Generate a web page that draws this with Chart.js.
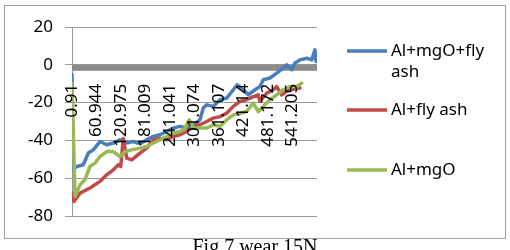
<!DOCTYPE html>
<html>
<head>
<meta charset="utf-8">
<script src="https://cdn.jsdelivr.net/npm/chart.js@4.4.1/dist/chart.umd.min.js"></script>
<style>
    html, body { margin: 0; padding: 0; background: #fff; overflow: hidden; }
    #wrap { position: relative; width: 510px; height: 250px; overflow: hidden; }
    #caption {
        position: absolute; left: 0; top: 236px; width: 510px;
        text-align: center; font: 20px/20px "Liberation Serif", serif; color: #000;
    }
</style>
</head>
<body>
<div id="wrap">
    <canvas id="wearChart" width="510" height="250"></canvas>
    <div id="caption">Fig 7 wear 15N</div>
</div>
<script>
// Tick labels on the x axis (sliding distance)
const xTickValues = [0.91, 60.944, 120.975, 181.009, 241.041, 301.074, 361.107, 421.14, 481.172, 541.205];
const xTickLabels = ['0.91', '60.944', '120.975', '181.009', '241.041', '301.074', '361.107', '421.14', '481.172', '541.205'];

const seriesNames = ['Al+mgO+fly ash', 'Al+fly ash', 'Al+mgO'];

// Al+mgO+fly ash
const blueX = [0.91, 3.4, 12.4, 28.6, 40.8, 53.1, 69.5, 85.9, 102, 118.5, 134.9, 151, 167.4, 183.8, 200, 216.4, 232.8, 249, 265.4, 281.8,
    298, 314.4, 322.5, 330.8, 347, 363.4, 379.8, 396, 405.7, 420.4, 432.7, 449.1, 461.3, 469.4, 485.8, 502.2, 518.4, 526.7, 539, 547,
    559.3, 575.7, 588, 596, 598.5];
const blueY = [-5, -55.5, -53.8, -52.9, -46.7, -45, -40.6, -42.3, -41.4, -39.7, -41.4, -40.6, -41.8, -39.7, -37.9, -37, -35.3, -33.5, -32.6, -33.5,
    -31.7, -29.1, -22.9, -21.2, -22, -18.5, -17.6, -13.2, -10.6, -13.2, -15.9, -13.2, -11.5, -7.9, -7, -4.4, -1.7, 0, -2.6, 0.9,
    2.6, 3.5, 2.6, 7.9, 1.8];

// Al+fly ash
const redX = [0.91, 5.8, 20.5, 45, 69.5, 85.9, 102, 114.3, 120.2, 126.5, 134.9, 147.1, 167.4, 183.8, 200, 216.4, 232.8, 249, 265.4, 281.8,
    298, 314.4, 330.8, 347, 363.4, 379.8, 396, 412.3, 428.7, 444.9, 457.2, 461.3, 477.7, 494, 502.2, 514.4, 526.7, 542.9, 559.3];
const redY = [-68, -72.3, -67.9, -65.2, -61.7, -58.2, -55.6, -52.9, -53.8, -39, -49.4, -50.3, -46.7, -44.1, -39.7, -38.8, -39.7, -37.9, -37, -35.3,
    -32.6, -31.7, -30, -28.2, -27.4, -25.6, -22, -19.4, -18.5, -16.8, -15.9, -19.4, -15, -13.2, -11.5, -15.9, -14.1, -12.9, -12.3];

// Al+mgO
const greenX = [0.91, 8.3, 20.5, 32.7, 45, 57.2, 69.5, 85.9, 102, 118.5, 130.7, 147.1, 167.4, 183.8, 200, 216.4, 232.8, 249, 265.4, 277.6,
    288.2, 298, 314.4, 330.8, 347, 363.4, 379.8, 396, 412.3, 428.7, 444.9, 457.2, 469.4, 485.8, 502.2, 518.4, 534.8, 551.2, 563.4];
const greenY = [-9.7, -69.7, -63.5, -60.8, -53.8, -52, -48.5, -45.9, -45.9, -48.5, -45.9, -45, -44.1, -43.2, -41.4, -39.7, -37.9, -36.1, -35.3, -33.5,
    -29.1, -33.5, -33.5, -33.5, -31.7, -32.6, -29.1, -26.5, -25.6, -24.7, -20.3, -24.7, -22, -18.5, -15.9, -13.2, -11.5, -11.5, -9.7];

const colors = ['#4a7ebb', '#be4b48', '#98b954'];
const FONT = '"Noto Sans", sans-serif';

function toPoints(xs, ys) {
    return xs.map((x, i) => ({ x: x, y: ys[i] }));
}

// Thick grey axis band at y = 0 (drawn under the lines)
const zeroBand = {
    id: 'zeroBand',
    beforeDatasetsDraw(chart) {
        const { ctx, chartArea, scales } = chart;
        const y0 = scales.y.getPixelForValue(0);
        ctx.save();
        ctx.fillStyle = '#8c8c8c';
        ctx.fillRect(chartArea.left, y0, chartArea.right - chartArea.left, 6);
        ctx.restore();
    }
};

// Frame and right-hand legend
const frameLegend = {
    id: 'frameLegend',
    afterDraw(chart) {
        const ctx = chart.ctx;
        ctx.save();
        ctx.strokeStyle = '#a0a0a0';
        ctx.lineWidth = 1;
        ctx.strokeRect(4.5, 5.5, 501, 233);

        const rows = [
            { lines: ['Al+mgO+fly', 'ash'], y: 51 },
            { lines: ['Al+fly ash'], y: 110 },
            { lines: ['Al+mgO'], y: 170 }
        ];
        ctx.font = '17px ' + FONT;
        ctx.textBaseline = 'middle';
        ctx.fillStyle = '#000';
        rows.forEach((row, i) => {
            ctx.strokeStyle = chart.data.datasets[i].borderColor;
            ctx.lineWidth = 3.5;
            ctx.beginPath();
            ctx.moveTo(347, row.y);
            ctx.lineTo(387, row.y);
            ctx.stroke();
            row.lines.forEach((t, j) => ctx.fillText(t, 391, row.y + j * 21));
        });
        ctx.restore();
    }
};

new Chart(document.getElementById('wearChart'), {
    type: 'line',
    data: {
        datasets: [
            { label: seriesNames[0], data: toPoints(blueX, blueY), borderColor: colors[0], order: 3 },
            { label: seriesNames[1], data: toPoints(redX, redY), borderColor: colors[1], order: 2 },
            { label: seriesNames[2], data: toPoints(greenX, greenY), borderColor: colors[2], order: 1 }
        ]
    },
    options: {
        responsive: false,
        animation: false,
        layout: { padding: { left: 0, top: 27, right: 193, bottom: 34 } },
        elements: {
            line: { borderWidth: 3.5, tension: 0, borderJoinStyle: 'round', borderCapStyle: 'round', fill: false },
            point: { radius: 0 }
        },
        plugins: {
            legend: { display: false },
            tooltip: { enabled: false }
        },
        scales: {
            x: {
                type: 'linear',
                position: { y: 0 },
                min: 0.91,
                max: 601,
                afterBuildTicks: scale => {
                    scale.ticks = xTickValues.map(v => ({ value: v }));
                },
                // invisible tick marks, only there to push the labels down
                grid: { display: true, drawOnChartArea: false, color: 'rgba(0,0,0,0)', drawTicks: true, tickLength: 12 },
                border: { display: false },
                ticks: {
                    z: 1,
                    autoSkip: false,
                    minRotation: 90,
                    maxRotation: 90,
                    padding: 7,
                    color: '#000',
                    font: { family: FONT, size: 17 },
                    callback: (value, index) => xTickLabels[index]
                }
            },
            y: {
                min: -80,
                max: 20,
                afterFit: scale => { scale.width = 72; },
                grid: { color: '#9a9a9a', lineWidth: 1, drawTicks: true, tickLength: 7 },
                border: { display: true, color: '#9a9a9a', width: 1 },
                ticks: {
                    stepSize: 20,
                    padding: 12,
                    color: '#000',
                    font: { family: FONT, size: 17 }
                }
            }
        }
    },
    plugins: [zeroBand, frameLegend]
});
</script>
</body>
</html>
